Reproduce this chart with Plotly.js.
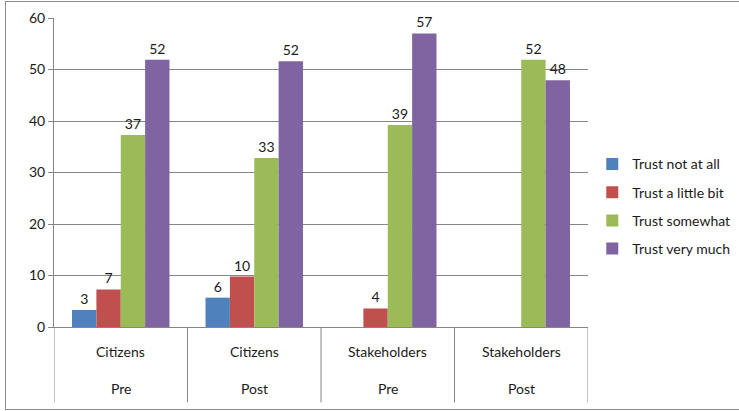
<!DOCTYPE html>
<html>
<head>
<meta charset="utf-8">
<script src="https://cdn.plot.ly/plotly-3.0.1.min.js"></script>
<style>
  html, body { margin: 0; padding: 0; background: #fff; }
  #wrap { position: relative; width: 739px; height: 411px; overflow: hidden; }
  #chart { position: absolute; left: 0; top: 0; width: 739px; height: 411px; }
  #frame { position: absolute; left: 5px; top: 1px; width: 740px; height: 407px;
           border: 1px solid #8c8c8c; pointer-events: none; }
</style>
</head>
<body>
<div id="wrap">
  <div id="chart"></div>
  <div id="frame"></div>
</div>
<script>
// ---- data ----
const groups = ["Citizens", "Citizens", "Stakeholders", "Stakeholders"];
const phases = ["Pre", "Post", "Pre", "Post"];
const seriesNames = ["Trust not at all", "Trust a little bit", "Trust somewhat", "Trust very much"];
const trustNotAtAll   = [3.3, 5.7, null, null];
const trustLittleBit  = [7.3, 9.8, 3.6, null];
const trustSomewhat   = [37.3, 32.8, 39.2, 51.9];
const trustVeryMuch   = [51.9, 51.6, 57.0, 47.9];
const seriesColors = ["#4F81BD", "#C0504D", "#9BBB59", "#8064A2"];
const yTicks = [0, 10, 20, 30, 40, 50, 60];

const seriesValues = [trustNotAtAll, trustLittleBit, trustSomewhat, trustVeryMuch];
const xIdx = groups.map((_, i) => i);
const FONT = "Lato, 'Open Sans', sans-serif";
const TXT = "#1a1a1a";

const traces = seriesValues.map((vals, s) => ({
  type: "bar",
  name: seriesNames[s],
  x: xIdx,
  y: vals,
  text: vals.map(v => (v == null ? "" : String(Math.round(v)))),
  textposition: "outside",
  textfont: { family: FONT, size: 14, color: TXT },
  cliponaxis: false,
  marker: { color: seriesColors[s], line: { width: 0 } },
  legendgroup: "g" + s,
  hoverinfo: "name+y"
}));

const annotations = [];
groups.forEach((g, i) => {
  annotations.push({ x: i, xref: "x", y: -0.078, yref: "paper", text: g, showarrow: false,
    font: { family: FONT, size: 14, color: TXT }, xanchor: "center", yanchor: "middle" });
  annotations.push({ x: i, xref: "x", y: -0.198, yref: "paper", text: phases[i], showarrow: false,
    font: { family: FONT, size: 14, color: TXT }, xanchor: "center", yanchor: "middle" });
});

const shapes = [];
for (let i = 0; i <= groups.length; i++) {
  shapes.push({ type: "line", xref: "x", yref: "paper", x0: i - 0.5, x1: i - 0.5, y0: 0, y1: -0.244,
    line: { color: "#868686", width: 1 } });
}

const layout = {
  width: 739, height: 411,
  margin: { l: 54, r: 151, t: 18, b: 83.5, autoexpand: false },
  paper_bgcolor: "#fff", plot_bgcolor: "#fff",
  font: { family: FONT, size: 14, color: TXT },
  barmode: "group",
  bargap: 0.27,
  bargroupgap: 0,
  showlegend: true,
  legend: {
    x: 1.008, xanchor: "left", y: 0.578, yanchor: "top",
    font: { family: FONT, size: 14, color: TXT },
    tracegroupgap: 7,
    bgcolor: "rgba(0,0,0,0)"
  },
  xaxis: {
    type: "linear", range: [-0.5, groups.length - 0.5],
    showticklabels: false, ticks: "", showgrid: false, zeroline: false,
    showline: true, linecolor: "#868686", linewidth: 1, fixedrange: true
  },
  yaxis: {
    range: [0, 60], tickvals: yTicks, ticktext: yTicks.map(String),
    showgrid: true, gridcolor: "#868686", gridwidth: 1,
    zeroline: false, showline: true, linecolor: "#868686", linewidth: 1,
    ticks: "outside", ticklen: 5, tickcolor: "#868686",
    tickfont: { family: FONT, size: 14, color: TXT }, fixedrange: true
  },
  annotations: annotations,
  shapes: shapes
};

Plotly.newPlot("chart", traces, layout, { displayModeBar: false, staticPlot: true });
</script>
</body>
</html>
